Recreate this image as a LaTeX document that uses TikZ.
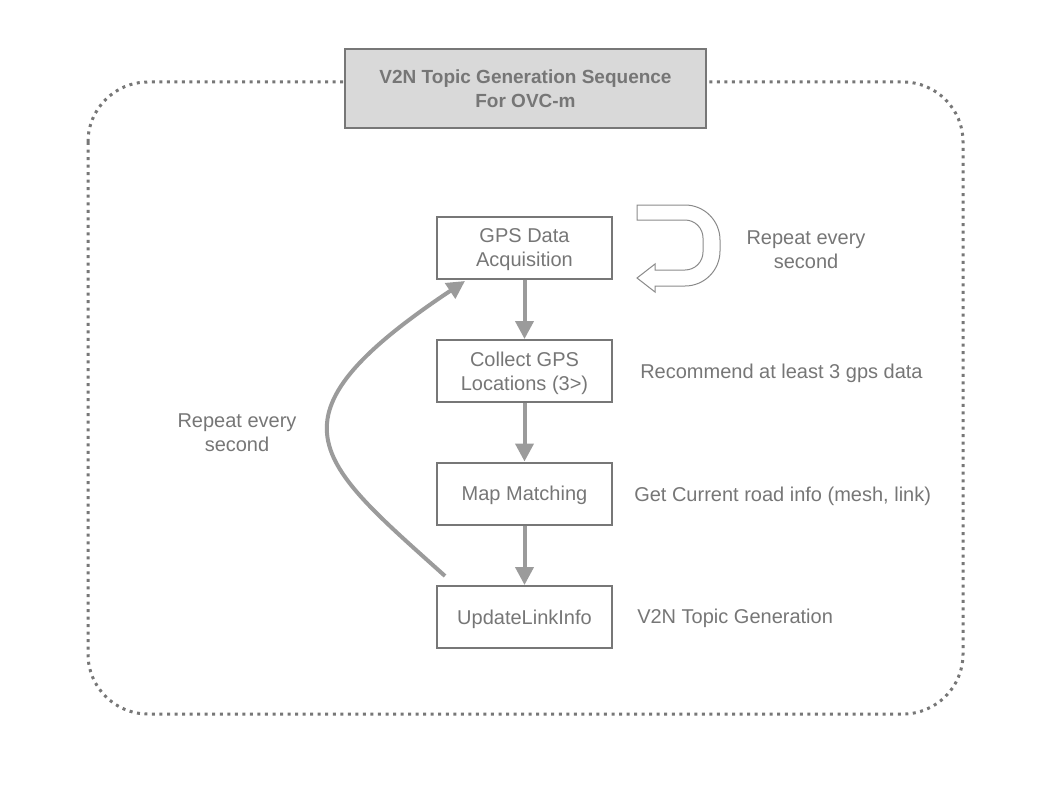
\documentclass[tikz,border=0pt]{standalone}
\usepackage{fontspec}
\setmainfont{Liberation Sans}
\usetikzlibrary{arrows.meta}
\definecolor{boxgray}{HTML}{777777}
\definecolor{arrgray}{HTML}{9B9B9B}
\definecolor{titlefill}{HTML}{D9D9D9}
\definecolor{txtgray}{HTML}{767676}
\definecolor{uturngray}{HTML}{8A8A8A}
\begin{document}
\begin{tikzpicture}[x=0.75pt,y=-0.75pt,
  stepbox/.style={draw=boxgray, line width=1.5pt, minimum width=131.25pt, minimum height=46.5pt, inner sep=0pt, text depth=0pt, align=center, text=txtgray, font=\fontsize{15}{18}\selectfont},
  flowarrow/.style={draw=arrgray, line width=3pt, -{Triangle[length=13.5pt,width=13.5pt]}},
  note/.style={text=txtgray, font=\fontsize{15}{18}\selectfont, align=center, inner sep=0pt, text depth=0pt},
  framebox/.style={draw=boxgray, line width=2.25pt, dash pattern=on 2.25pt off 3.4pt, rounded corners=45pt},
  titlebox/.style={draw=boxgray, fill=titlefill, line width=1.5pt, minimum width=270.75pt, minimum height=59.25pt, inner sep=0pt, text depth=0pt, align=center, text=txtgray, font=\bfseries\fontsize{14.25}{18}\selectfont},
  uturn/.style={draw=uturngray, line width=0.75pt}]
\useasboundingbox (0,0) rectangle (1048,788);
\draw[framebox] (88,82) rectangle (963,714);
\node[titlebox] (title) at (525.5,88.5) {V2N Topic Generation Sequence\\For OVC-m};

\node[stepbox] (gps) at (524.5,247.5) {GPS Data\\Acquisition};
\node[stepbox] (collect) at (524.5,371) {Collect GPS\\Locations (3>)};
\node[stepbox] (map) at (524.5,493.5) {Map Matching};
\node[stepbox] (update) at (524.5,617) {UpdateLinkInfo};

\draw[flowarrow] (gps) -- (collect);
\draw[flowarrow] (collect) -- (map);
\draw[flowarrow] (map) -- (update);

\coordinate (cs) at (445,576);
\coordinate (ce) at (465,281);
\draw[flowarrow] (cs) .. controls (317,461) and (258,419) .. (ce);

\draw[uturn] (637,205) -- (685,205) .. controls (704.3,205) and (720,220.7) .. (720,240)
  -- (720,251) .. controls (720,270.3) and (704.3,286) .. (685,286)
  -- (655,286) -- (655,292) -- (637,278) -- (655,264) -- (655,270)
  -- (685,270) .. controls (694.9,270) and (703,261.9) .. (703,252)
  -- (703,238) .. controls (703,228.1) and (694.9,220) .. (685,220)
  -- (637,220) -- cycle;

\node[note] (rep1) at (806,250) {Repeat every\\second};
\node[note, anchor=west] (rec) at (640,371) {Recommend at least 3 gps data};
\node[note, anchor=west] (road) at (634,494) {Get Current road info (mesh, link)};
\node[note, anchor=west] (topic) at (637,616) {V2N Topic Generation};
\node[note] (rep2) at (237,433) {Repeat every\\second};
\end{tikzpicture}
\end{document}
